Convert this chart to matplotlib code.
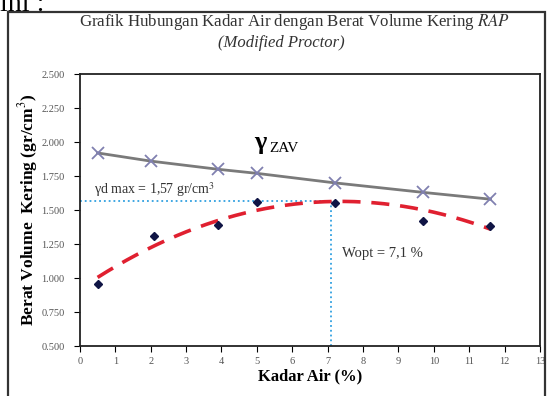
import numpy as np
import matplotlib
matplotlib.use("Agg")
from matplotlib import pyplot as plt
from matplotlib.patches import Rectangle

plt.rcParams['font.family'] = ['Liberation Serif', 'DejaVu Serif']
plt.rcParams['mathtext.fontset'] = 'stix'

# data
kadar_air = [0.5, 2.1, 3.9, 5.0, 7.2, 9.7, 11.6]
berat_kering = [0.96, 1.31, 1.39, 1.56, 1.55, 1.42, 1.38]
zav_x = [0.5, 2.0, 3.9, 5.0, 7.2, 9.7, 11.6]
zav_y = [1.92, 1.86, 1.80, 1.77, 1.70, 1.63, 1.58]
# trendline
trend_x = [0.5, 2.0, 3.9, 5.0, 7.1, 9.7, 11.6]
trend_y = [1.00, 1.24, 1.40, 1.51, 1.565, 1.50, 1.36]
gd_max = 1.57
w_opt = 7.1
xticks = np.arange(0, 14, 1)
yticks = [0.5, 0.75, 1.0, 1.25, 1.5, 1.75, 2.0, 2.25, 2.5]

fig = plt.figure(figsize=(5.51, 3.96), dpi=100)
ax = fig.add_axes([0.145, 0.126, 0.835, 0.687])

# outer frame from the document
fig.patches.append(Rectangle((0.014, -0.01), 0.976, 0.98, transform=fig.transFigure,
                             fill=False, edgecolor='#333333', linewidth=1.6))
fig.text(0.0, 1.02, "ini :", fontsize=20, va='top', ha='left')

# smooth trendline through the read points
coef = np.polyfit(trend_x, trend_y, 3)
xs = np.linspace(min(trend_x), max(trend_x), 200)
ax.plot(xs, np.polyval(coef, xs), color='#e02030', lw=2.6, ls=(0, (5, 3)), zorder=2)

ax.plot(zav_x, zav_y, color='#7a7a7a', lw=2, marker='x', markersize=8,
        markeredgecolor='#8080b0', markeredgewidth=1.3, zorder=3)
ax.plot(kadar_air, berat_kering, ls='none', marker='D', markersize=4.5,
        color='#101545', zorder=4)

ax.plot([0, w_opt], [gd_max, gd_max], color='#30a0e0', lw=1.3, ls=':', zorder=1)
ax.plot([w_opt, w_opt], [0.5, gd_max], color='#30a0e0', lw=1.3, ls=':', zorder=1)

ax.text(0.4, 1.585, "γd max = 1,57 gr/cm$^3$", fontsize=10, color='#333333', va='bottom')
ax.text(7.4, 1.18, "Wopt = 7,1 %", fontsize=10.5, color='#333333', va='center')
ax.text(5.1, 2.0, "γ", fontsize=19, fontweight='bold', va='center', ha='center')
ax.text(5.35, 1.95, "ZAV", fontsize=11, va='center')

ax.set_xlim(0, 13)
ax.set_ylim(0.5, 2.5)
ax.set_xticks(xticks)
ax.set_yticks(yticks)
ax.set_yticklabels(["%.3f" % v for v in yticks])
ax.tick_params(labelsize=7.5, labelcolor='#555555', length=4, direction='out')
ax.tick_params(axis='y', pad=7)
for s in ax.spines.values():
    s.set_linewidth(1.3)
    s.set_color('#222222')

ax.set_xlabel("Kadar Air (%)", fontsize=12, fontweight='bold', labelpad=2)
ax.set_ylabel("Berat Volume  Kering (gr/cm$^3$)", fontsize=12.5, fontweight='bold', labelpad=1)

fig.text(0.535, 0.944, "Grafik Hubungan Kadar Air dengan Berat Volume Kering $\\it{RAP}$",
         ha='center', va='center', fontsize=12.2, color='#333333')
fig.text(0.51, 0.891, "(Modified Proctor)", ha='center', va='center', fontsize=12,
         color='#333333', style='italic')

fig.savefig("out.png", dpi=100)
